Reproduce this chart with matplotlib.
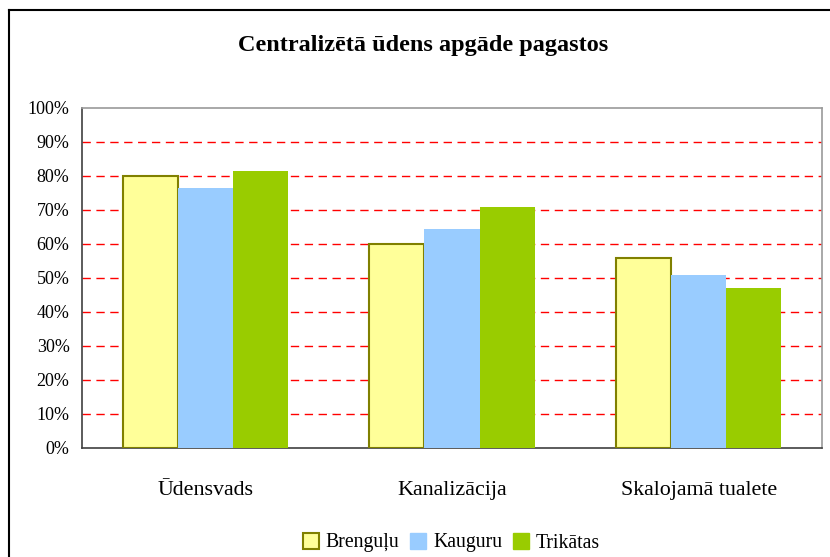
import matplotlib
matplotlib.use("Agg")
import matplotlib.pyplot as plt
import numpy as np
from matplotlib.lines import Line2D
from matplotlib.ticker import PercentFormatter

categories = ["Ūdensvads", "Kanalizācija", "Skalojamā tualete"]
series_names = ["Brenguļu", "Kauguru", "Trikātas"]
brengulu = [80.0, 60.0, 55.9]
kauguru = [76.5, 64.4, 50.9]
trikatas = [81.5, 70.9, 47.1]
yticks = [0, 10, 20, 30, 40, 50, 60, 70, 80, 90, 100]
title = "Centralizētā ūdens apgāde pagastos"

plt.rcParams['font.family'] = ['Liberation Serif', 'DejaVu Serif']

W, H = 830, 557
fig = plt.figure(figsize=(W / 100, H / 100), dpi=100)
ax = fig.add_axes([82 / W, 1 - 448 / H, (822 - 82) / W, (448 - 108) / H])

x = np.arange(len(categories))
bw = 0.223
colors = ["#FFFF99", "#99CCFF", "#99CC00"]
data = [brengulu, kauguru, trikatas]
for i, (vals, c) in enumerate(zip(data, colors)):
    if i == 0:
        ax.bar(x + (i - 1) * bw, vals, bw, color=c, edgecolor="#808000",
               linewidth=1.5, zorder=3)
    else:
        ax.bar(x + (i - 1) * bw, vals, bw, color=c, linewidth=0, zorder=3)

ax.set_xlim(-0.5, 2.5)
ax.set_ylim(0, 100)
ax.set_yticks(yticks)
ax.yaxis.set_major_formatter(PercentFormatter(decimals=0))
for v in yticks[1:-1]:
    ax.axhline(v, color="#FF0000", linestyle=(0, (6, 4)), linewidth=1, zorder=1)

ax.set_xticks(x)
ax.set_xticklabels(categories, fontsize=15.8)
ax.tick_params(axis="x", length=0, pad=24)
ax.tick_params(axis="y", length=0, pad=9, labelsize=13)

for s in ["top", "right"]:
    ax.spines[s].set_color("#9a9a9a")
    ax.spines[s].set_linewidth(1.2)
for s in ["left", "bottom"]:
    ax.spines[s].set_color("#404040")
    ax.spines[s].set_linewidth(1.2)

fig.text(423 / W, 1 - 45 / H, title, ha="center", va="center",
         fontsize=17.5, fontweight="bold")

handles = [
    Line2D([], [], marker="s", linestyle="none", markersize=11,
           markerfacecolor=colors[0], markeredgecolor="#808000", markeredgewidth=1.5),
    Line2D([], [], marker="s", linestyle="none", markersize=11,
           markerfacecolor=colors[1], markeredgecolor=colors[1]),
    Line2D([], [], marker="s", linestyle="none", markersize=11,
           markerfacecolor=colors[2], markeredgecolor=colors[2]),
]
fig.legend(handles, series_names, loc="center", bbox_to_anchor=(451 / W, 1 - 543 / H),
           ncol=3, frameon=False, fontsize=14.2, handletextpad=0.3,
           columnspacing=0.5, handlelength=0.9)

# figure border (left and top visible)
fig.add_artist(Line2D([9 / W, 9 / W], [0, 1 - 10 / H], color="black", linewidth=1.5,
                      transform=fig.transFigure))
fig.add_artist(Line2D([9 / W, 1], [1 - 10 / H, 1 - 10 / H], color="black", linewidth=1.5,
                      transform=fig.transFigure))

fig.savefig("out.png", dpi=100)
